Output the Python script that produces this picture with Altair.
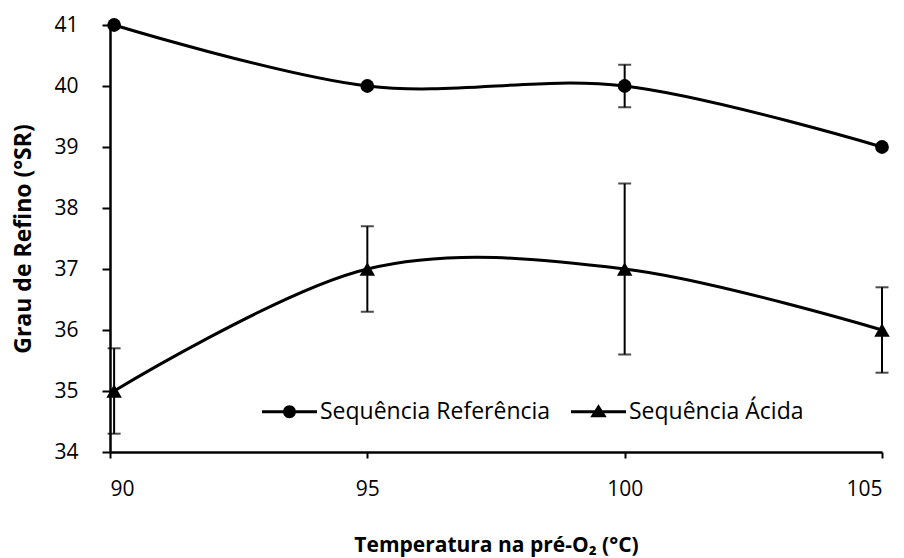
import altair as alt
import pandas as pd

# Grau de refino (°SR) vs. temperatura da pré-O2, duas sequências de branqueamento
temps = [90.08, 95, 100, 105]
tick_values = [90, 95, 100, 105]
ref_vals = [41, 40, 40, 39]
ref_err = [0.0, 0.0, 0.35, 0.0]
acid_vals = [35, 37, 37, 36]
acid_err = [0.7, 0.7, 1.4, 0.7]
series_names = ["Sequência Referência", "Sequência Ácida"]

rows = []
for name, vals, errs in [(series_names[0], ref_vals, ref_err),
                         (series_names[1], acid_vals, acid_err)]:
    for t, v, e in zip(temps, vals, errs):
        rows.append({"serie": name, "temp": t, "valor": v,
                     "lo": v - e, "hi": v + e, "err": e})
df = pd.DataFrame(rows)
df_err = df[df["err"] > 0]

FONT = "Open Sans"

x_enc = alt.X("temp:Q", scale=alt.Scale(domain=[90, 105], nice=False, zero=False),
              axis=alt.Axis(values=tick_values, tickSize=6, labelPadding=20,
                            title="Temperatura na pré-O₂ (°C)", titlePadding=35,
                            titleFontSize=21))
y_enc = alt.Y("valor:Q", scale=alt.Scale(domain=[34, 41], nice=False, zero=False),
              axis=alt.Axis(values=list(range(34, 42)), format="d", tickSize=8, labelPadding=24,
                            title="Grau de Refino (°SR)", titlePadding=18,
                            titleFontSize=23))

base = alt.Chart(df)

lines = base.mark_line(color="black", strokeWidth=3, interpolate="cardinal", tension=0).encode(
    x=x_enc, y=y_enc, detail="serie:N"
)

bars = alt.Chart(df_err).mark_rule(color="black", strokeWidth=2).encode(
    x="temp:Q", y="lo:Q", y2="hi:Q"
)
caps_lo = alt.Chart(df_err).mark_tick(color="black", thickness=2, size=13, orient="horizontal").encode(
    x="temp:Q", y="lo:Q"
)
caps_hi = alt.Chart(df_err).mark_tick(color="black", thickness=2, size=13, orient="horizontal").encode(
    x="temp:Q", y="hi:Q"
)

pts_ref = base.transform_filter(alt.datum.serie == series_names[0]).mark_point(
    filled=True, color="black", opacity=1, shape="circle", size=190
).encode(x="temp:Q", y="valor:Q")
pts_acid = base.transform_filter(alt.datum.serie == series_names[1]).mark_point(
    filled=True, color="black", opacity=1, shape="triangle-up", size=240
).encode(x="temp:Q", y="valor:Q")

# legend symbols: a filled bar (the line) with the series marker in the middle
legend_paths = [
    "M-1,-0.27H9V0.27H-1Z"
    "M5.18,0A1.18,1.18,0,1,1,2.82,0A1.18,1.18,0,1,1,5.18,0Z",
    "M-1,-0.27H9V0.27H-1Z"
    "M4,-1.35L5.5,1L2.5,1Z",
]
legend_layer = base.mark_point(filled=True, color="black", opacity=0).encode(
    x="temp:Q", y="valor:Q",
    shape=alt.Shape("serie:N", sort=series_names,
                    scale=alt.Scale(domain=series_names, range=legend_paths),
                    legend=alt.Legend(title=None, orient="none", direction="horizontal",
                                      legendX=146, legendY=375,
                                      symbolSize=121, symbolOpacity=1,
                                      symbolStrokeWidth=0,
                                      symbolFillColor="black",
                                      labelFont=FONT, labelFontSize=23, labelColor="black",
                                      labelLimit=0, labelOffset=41, columnPadding=14,
                                      padding=0)),
)

chart = alt.layer(lines, bars, caps_lo, caps_hi, pts_ref, pts_acid, legend_layer).properties(
    width=772, height=427,
    autosize=alt.AutoSizeParams(type="none"),
    padding={"left": 110, "top": 25, "right": 22, "bottom": 106},
    background="white",
).configure_view(stroke=None).configure_axis(
    grid=False, domainColor="black", domainWidth=2.5, tickColor="black", tickWidth=2,
    labelFont=FONT, labelFontSize=21, labelColor="black",
    titleFont=FONT, titleFontWeight="bold", titleColor="black",
)

chart.save("out.html", embed_options={"renderer": "svg", "actions": False})
